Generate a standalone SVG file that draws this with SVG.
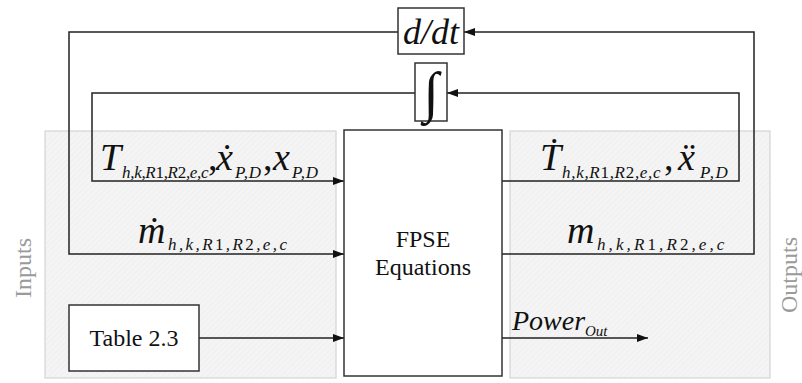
<svg xmlns="http://www.w3.org/2000/svg" width="802" height="383" viewBox="0 0 802 383">
<style>
.reg{fill:url(#hatch);stroke:#d4d4d4;stroke-width:1.2}
.box{fill:#fff;stroke:#333;stroke-width:1.5}
.ln{fill:none;stroke:#222;stroke-width:1.5}
.arr{marker-end:url(#ah)}
.tx{font-family:"Liberation Serif","Times New Roman","DejaVu Serif",serif;fill:#111}
.it{font-style:italic}
.up{font-style:normal}
.big{font-size:38px}
.sub{font-size:17px}
.lbl{font-size:24px;text-anchor:middle}
.side{font-family:"Liberation Serif","Times New Roman",serif;font-size:24px;fill:#9a9a9a}
</style>
<defs>
<pattern id="hatch" width="4" height="4" patternUnits="userSpaceOnUse" patternTransform="rotate(45)">
<rect width="4" height="4" fill="#f4f4f4"/>
<line x1="0" y1="0" x2="0" y2="4" stroke="#ebebeb" stroke-width="1"/>
</pattern>
<marker id="ah" markerWidth="11" markerHeight="8" refX="11" refY="4" orient="auto" markerUnits="userSpaceOnUse">
<path d="M0,0 L11,4 L0,8 z" fill="#111"/>
</marker>
</defs>
<g id="regions">
<rect id="inputs-region" class="reg" x="45" y="131" width="291" height="247"/>
<rect id="outputs-region" class="reg" x="510" y="131" width="260" height="247"/>
<text class="side" transform="translate(31,298) rotate(-90)">Inputs</text>
<text class="side" transform="translate(797,313) rotate(-90)">Outputs</text>
</g>
<g id="connectors">
<polyline class="ln arr" points="502,254 754,254 754,32 464,32"/>
<polyline class="ln arr" points="398,32 69,32 69,254 344,254"/>
<polyline class="ln arr" points="502,181 739,181 739,93 447,93"/>
<polyline class="ln arr" points="415,93 92,93 92,181 344,181"/>
<line class="ln arr" x1="199" y1="338" x2="344" y2="338"/>
<line class="ln arr" x1="502" y1="338" x2="648" y2="338"/>
</g>
<g id="ddt">
<rect class="box" x="398" y="8" width="66" height="46"/>
<text class="tx it" x="431" y="44" font-size="36" text-anchor="middle">d/dt</text>
</g>
<g id="integral">
<rect class="box" x="415" y="63" width="32" height="58"/>
<text class="tx" x="431" y="111" font-size="56" text-anchor="middle">∫</text>
</g>
<g id="fpse">
<rect class="box" x="344" y="130" width="158" height="246"/>
<text class="tx lbl" x="423" y="247">FPSE</text>
<text class="tx lbl" x="423" y="275">Equations</text>
</g>
<g id="table">
<rect class="box" x="69" y="305" width="130" height="66"/>
<text class="tx lbl" x="134" y="346">Table 2.3</text>
</g>
<g id="labels">
<text class="tx it big" y="170"><tspan x="100">T</tspan><tspan class="sub" x="122" y="178" letter-spacing="-0.3">h,k,R<tspan class="up">1</tspan>,R<tspan class="up">2</tspan>,e,c</tspan><tspan class="up" x="208" y="170">,</tspan><tspan x="216">x&#x307;</tspan><tspan class="sub" x="235" y="178" letter-spacing="0.6">P,D</tspan><tspan class="up" x="263" y="170">,</tspan><tspan x="273">x</tspan><tspan class="sub" x="292" y="178" letter-spacing="0.6">P,D</tspan></text>

<text class="tx it big" y="243"><tspan x="138">m&#x307;</tspan><tspan class="sub" x="168" y="250" font-size="18" letter-spacing="2.4">h,k,R<tspan class="up">1</tspan>,R<tspan class="up">2</tspan>,e,c</tspan></text>

<text class="tx it big" y="170"><tspan x="540">T&#x307;</tspan><tspan class="sub" x="562" y="178" letter-spacing="0.7">h,k,R<tspan class="up">1</tspan>,R<tspan class="up">2</tspan>,e,c</tspan><tspan class="up" x="664" y="170">,</tspan><tspan x="678">x&#x308;</tspan><tspan class="sub" x="700" y="178" letter-spacing="1.5">P,D</tspan></text>

<text class="tx it big" y="243"><tspan x="567">m</tspan><tspan class="sub" x="597" y="250" font-size="18" letter-spacing="3.1">h,k,R<tspan class="up">1</tspan>,R<tspan class="up">2</tspan>,e,c</tspan></text>

<text class="tx it" y="330" font-size="28"><tspan x="512">Power</tspan><tspan x="585" y="336" font-size="15">Out</tspan></text>
</g>
</svg>
